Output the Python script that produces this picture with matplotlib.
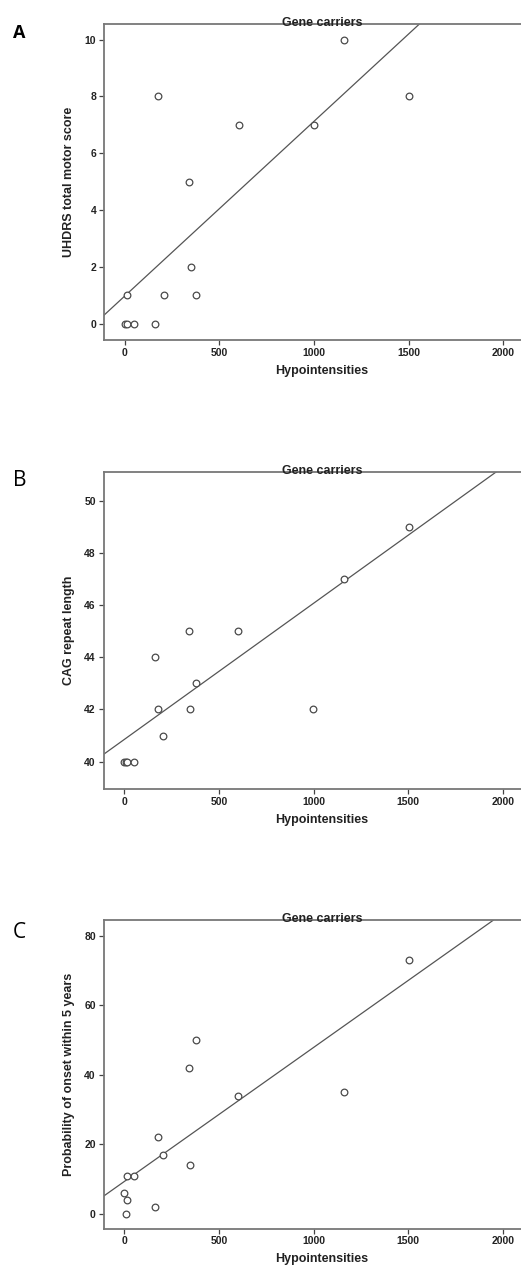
import numpy as np
import matplotlib
matplotlib.use('Agg')
import matplotlib.pyplot as plt

#%% datos
hipo_a = np.array([0, 10, 51, 162, 12, 176, 206, 341, 347, 378, 603, 998, 1160, 1503])
motor = np.array([0, 0, 0, 0, 1, 8, 1, 5, 2, 1, 7, 7, 10, 8])

hipo_b = np.array([0, 8, 12, 51, 162, 176, 206, 341, 347, 378, 603, 998, 1160, 1503])
cag = np.array([40, 40, 40, 40, 44, 42, 41, 45, 42, 43, 45, 42, 47, 49])

hipo_c = np.array([0, 12, 10, 12, 51, 162, 176, 206, 341, 347, 378, 603, 1160, 1503])
prob = np.array([6, 4, 0, 11, 11, 2, 22, 17, 42, 14, 50, 34, 35, 73])

# rectas de ajuste (pendiente, ordenada)
pendientes = [0.00615, 0.00522, 0.0386]
ordenadas = [0.98, 40.85, 9.3]

paneles = ['A', 'B', 'C']
ylabels = ['UHDRS total motor score', 'CAG repeat length',
           'Probability of onset within 5 years']
yticks = [[0, 2, 4, 6, 8, 10], [40, 42, 44, 46, 48, 50], [0, 20, 40, 60, 80]]
ylims = [(-0.57, 10.55), (38.95, 51.1), (-4.3, 84.5)]
xticks = [0, 500, 1000, 1500, 2000]

#%% figura
fig = plt.figure(figsize=(5.21, 12.7), dpi=100)
fuente = 'Liberation Sans'
gris = '#777777'
texto = '#222222'

# posiciones en pixeles: (izq, abajo, alto)
pos = [(104, 340, 316), (103.5, 789, 317), (103.5, 1228.7, 308.4)]
letra_pos = [(19, 33.5), (19.5, 481), (19.5, 932)]
letra_tam = [13, 15, 15]
datos = [(hipo_a, motor), (hipo_b, cag), (hipo_c, prob)]

for i in range(3):
    izq, abajo, alto = pos[i]
    ax = fig.add_axes([izq / 521, 1 - abajo / 1270, 436 / 521, alto / 1270])
    x, y = datos[i]

    ax.plot(x, y, 'o', mfc='white', mec='#4a4a4a', ms=4.8, mew=0.9, zorder=3)
    ax.axline((0, ordenadas[i]), slope=pendientes[i], c='#555555', lw=0.9, zorder=2)

    ax.set_xlim(-110, 2193)
    ax.set_ylim(*ylims[i])
    ax.set_xticks(xticks)
    ax.set_yticks(yticks[i])
    for s in ax.spines.values():
        s.set_color(gris)
        s.set_linewidth(1.3)
    ax.tick_params(direction='out', length=3.5, width=0.9, color='#444444',
                   labelsize=7.5, pad=2)
    for t in ax.get_xticklabels() + ax.get_yticklabels():
        t.set_fontfamily(fuente)
        t.set_fontweight('bold')
        t.set_color(texto)

    ax.set_xlabel('Hypointensities', fontsize=9, fontweight='bold',
                  family=fuente, color=texto, labelpad=5)
    ax.set_ylabel(ylabels[i], fontsize=9, fontweight='bold',
                  family=fuente, color=texto, labelpad=7)
    fig.text(322 / 521, 1 - (abajo - alto + 1.5) / 1270, 'Gene carriers',
             ha='center', va='baseline', fontsize=9, fontweight='bold',
             family=fuente, color=texto)

    lx, ly = letra_pos[i]
    fig.text(lx / 521, 1 - ly / 1270, paneles[i], ha='center', va='center',
             fontsize=letra_tam[i], fontweight='bold' if i == 0 else 'normal',
             family='Open Sans', color='black')

fig.savefig('out.png', dpi=100, facecolor='white')
